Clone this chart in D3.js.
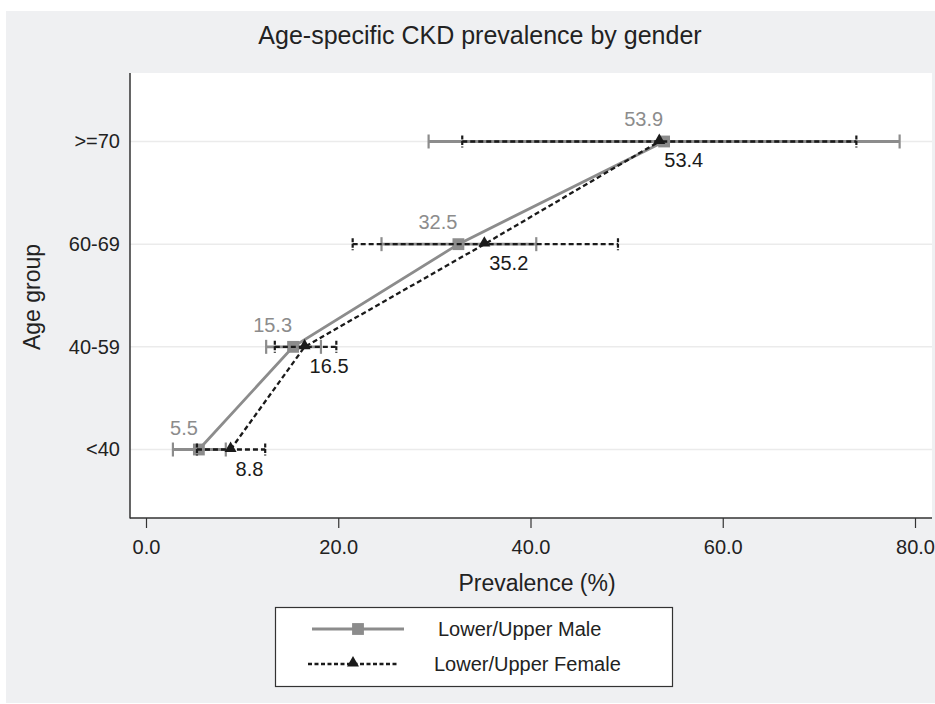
<!DOCTYPE html>
<html>
<head>
<meta charset="utf-8">
<script src="https://cdn.jsdelivr.net/npm/d3@7"></script>
<style>
  body { margin: 0; background: #fff; }
  svg { display: block; font-family: "Liberation Sans", Arial, sans-serif; }
</style>
</head>
<body>
<script>
const ageGroups = ['<40', '40-59', '60-69', '>=70'];
const maleEst = [5.5, 15.3, 32.5, 53.9];
const maleLower = [2.8, 12.5, 24.5, 29.4];
const maleUpper = [8.3, 18.2, 40.6, 78.4];
const femaleEst = [8.8, 16.5, 35.2, 53.4];
const femaleLower = [5.3, 13.4, 21.5, 32.9];
const femaleUpper = [12.4, 19.8, 49.1, 73.9];
const xTicks = [0, 20, 40, 60, 80];

const W = 935, H = 704;
const plot = { left: 130, right: 932, top: 73, bottom: 518 };
const grey = '#8c8c8c', dark = '#1a1a1a';

const svg = d3.select('body').append('svg')
  .attr('width', W).attr('height', H);

svg.append('rect').attr('x', 6).attr('y', 11)
  .attr('width', W - 6).attr('height', H - 12).attr('fill', '#eff0f2');
svg.append('rect').attr('x', plot.left).attr('y', plot.top)
  .attr('width', plot.right - plot.left).attr('height', plot.bottom - plot.top)
  .attr('fill', '#fff');

const x = d3.scaleLinear().domain([0, 80]).range([146, 915]);
const y = d3.scalePoint().domain(ageGroups)
  .range([plot.bottom, plot.top]).padding(0.667);

// gridlines
svg.append('g').selectAll('line').data(ageGroups).enter().append('line')
  .attr('x1', plot.left).attr('x2', plot.right)
  .attr('y1', d => y(d)).attr('y2', d => y(d))
  .attr('stroke', '#ebebeb').attr('stroke-width', 1.5);

// axes
const xAxis = d3.axisBottom(x).tickValues(xTicks).tickFormat(d3.format('.1f'))
  .tickSize(10).tickPadding(12);
const gx = svg.append('g').attr('transform', `translate(0,${plot.bottom})`).call(xAxis);
gx.select('.domain').remove();
gx.selectAll('line').attr('stroke', '#333').attr('stroke-width', 1.2);
gx.selectAll('text').attr('fill', '#222').style('font-size', '20px');

const yAxis = d3.axisLeft(y).tickSize(0).tickPadding(10);
const gy = svg.append('g').attr('transform', `translate(${plot.left},0)`).call(yAxis);
gy.select('.domain').remove();
gy.selectAll('text').attr('fill', '#222').style('font-size', '20px');

svg.append('line').attr('x1', plot.left).attr('x2', plot.left)
  .attr('y1', plot.top).attr('y2', plot.bottom + 0.5)
  .attr('stroke', '#333').attr('stroke-width', 1.5);
svg.append('line').attr('x1', plot.left).attr('x2', plot.right)
  .attr('y1', plot.bottom).attr('y2', plot.bottom)
  .attr('stroke', '#333').attr('stroke-width', 1.5);

// series
const series = [
  { est: maleEst, lo: maleLower, hi: maleUpper, color: grey, dash: null, width: 2.8, cap: 7, marker: 'square' },
  { est: femaleEst, lo: femaleLower, hi: femaleUpper, color: dark, dash: '5,3', width: 2.3, cap: 6, marker: 'triangle' }
];

series.forEach(s => {
  const g = svg.append('g');
  const rows = ageGroups.map((a, i) => ({ a, est: s.est[i], lo: s.lo[i], hi: s.hi[i] }));
  g.selectAll('.ci').data(rows).enter().append('line')
    .attr('x1', d => x(d.lo)).attr('x2', d => x(d.hi))
    .attr('y1', d => y(d.a)).attr('y2', d => y(d.a))
    .attr('stroke', s.color).attr('stroke-width', s.width)
    .attr('stroke-dasharray', s.dash);
  ['lo', 'hi'].forEach(k => {
    g.selectAll('.cap' + k).data(rows).enter().append('line')
      .attr('x1', d => x(d[k])).attr('x2', d => x(d[k]))
      .attr('y1', d => y(d.a) - s.cap).attr('y2', d => y(d.a) + s.cap)
      .attr('stroke', s.color).attr('stroke-width', 2.2)
      .attr('stroke-dasharray', s.dash ? '4,1.5' : null);
  });
  const line = d3.line().x(d => x(d.est)).y(d => y(d.a));
  g.append('path').datum(rows).attr('d', line)
    .attr('fill', 'none').attr('stroke', s.color).attr('stroke-width', s.width)
    .attr('stroke-dasharray', s.dash);
  s.g = g; s.rows = rows;
});

series.forEach(s => {
  const sym = s.marker === 'square'
    ? d3.symbol(d3.symbolSquare, 140) : d3.symbol(d3.symbolTriangle, 62);
  s.g.selectAll('.mk').data(s.rows).enter().append('path')
    .attr('d', sym)
    .attr('transform', d => `translate(${x(d.est)},${y(d.a) + (s.marker === 'triangle' ? -1 : 0)})`)
    .attr('fill', s.color);
});

// value labels
svg.append('g').selectAll('text').data(ageGroups).enter().append('text')
  .attr('x', (d, i) => x(maleEst[i]) - 1).attr('y', d => y(d) - 15)
  .attr('text-anchor', 'end').attr('fill', grey).style('font-size', '20px')
  .text((d, i) => maleEst[i].toFixed(1));
svg.append('g').selectAll('text').data(ageGroups).enter().append('text')
  .attr('x', (d, i) => x(femaleEst[i]) + 5).attr('y', d => y(d) + 26)
  .attr('text-anchor', 'start').attr('fill', dark).style('font-size', '20px')
  .text((d, i) => femaleEst[i].toFixed(1));

// titles
svg.append('text').attr('x', 480).attr('y', 44).attr('text-anchor', 'middle')
  .attr('fill', '#222').style('font-size', '25px').text('Age-specific CKD prevalence by gender');
svg.append('text').attr('x', 537).attr('y', 591).attr('text-anchor', 'middle')
  .attr('fill', '#222').style('font-size', '23px').text('Prevalence (%)');
svg.append('text').attr('transform', 'translate(40,297) rotate(-90)')
  .attr('text-anchor', 'middle').attr('fill', '#222').style('font-size', '23px')
  .text('Age group');

// legend
const lg = svg.append('g');
lg.append('rect').attr('x', 275.5).attr('y', 607.5).attr('width', 397).attr('height', 79)
  .attr('fill', '#fff').attr('stroke', '#333').attr('stroke-width', 1.2);
const legendItems = [
  { label: 'Lower/Upper Male', s: series[0], y: 629, x1: 312, x2: 404, tx: 438 },
  { label: 'Lower/Upper Female', s: series[1], y: 664, x1: 308, x2: 398, tx: 434 }
];
legendItems.forEach(it => {
  lg.append('line').attr('x1', it.x1).attr('x2', it.x2).attr('y1', it.y).attr('y2', it.y)
    .attr('stroke', it.s.color).attr('stroke-width', it.s.width)
    .attr('stroke-dasharray', it.s.dash ? '4,2.5' : null);
  const sym = it.s.marker === 'square'
    ? d3.symbol(d3.symbolSquare, 140) : d3.symbol(d3.symbolTriangle, 62);
  lg.append('path').attr('d', sym)
    .attr('transform', `translate(${(it.x1 + it.x2) / 2},${it.y + (it.s.marker === 'triangle' ? -1 : 0)})`)
    .attr('fill', it.s.color);
  lg.append('text').attr('x', it.tx).attr('y', it.y + 7).attr('fill', '#222')
    .style('font-size', '20px').text(it.label);
});
</script>
</body>
</html>
